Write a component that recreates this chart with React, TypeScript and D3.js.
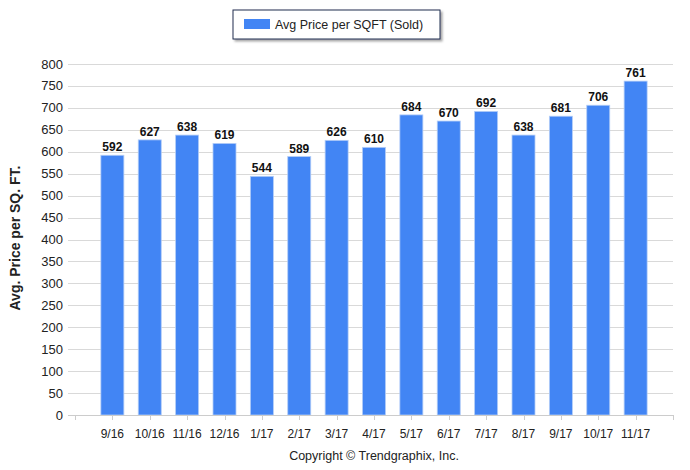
import React from "react";
import * as d3 from "d3";

const categories = ["9/16","10/16","11/16","12/16","1/17","2/17","3/17","4/17","5/17","6/17","7/17","8/17","9/17","10/17","11/17"];
const values = [592,627,638,619,544,589,626,610,684,670,692,638,681,706,761];
const yTicks = [0,50,100,150,200,250,300,350,400,450,500,550,600,650,700,750,800];
const seriesName = "Avg Price per SQFT (Sold)";
const yTitle = "Avg. Price per SQ. FT.";
const copyright = "Copyright \u00A9 Trendgraphix, Inc.";

const W = 690, H = 470;
const axisLeft = 75, axisRight = 673, yTop = 64, yBottom = 415;
const font = "'Liberation Sans', Arial, sans-serif";

export default function App() {
  const x = d3.scalePoint<string>().domain(categories).range([axisLeft, axisRight]).padding(1);
  const y = d3.scaleLinear().domain([0, 800]).range([yBottom, yTop]);
  const bw = 23;
  return (
    <svg width={W} height={H} style={{ position: "absolute", left: 0, top: 0, background: "#fff" }} fontFamily={font}>
      <defs>
        <filter id="sh" x="-10%" y="-30%" width="130%" height="180%">
          <feDropShadow dx="2" dy="2" stdDeviation="1.2" floodColor="#000" floodOpacity="0.35" />
        </filter>
      </defs>
      {/* legend */}
      <rect x={233} y={10} width={207} height={29} fill="#fff" stroke="#1f2f4f" strokeWidth={1} filter="url(#sh)" />
      <rect x={244} y={19} width={26} height={10} fill="#4285f4" />
      <text x={275} y={28.5} fontSize={12.5} fill="#222">{seriesName}</text>
      {/* gridlines */}
      {yTicks.map(t => (
        <line key={t} x1={68} x2={axisRight} y1={Math.round(y(t)) + 0.5} y2={Math.round(y(t)) + 0.5} stroke="#d9d9d9" strokeWidth={1} />
      ))}
      {yTicks.map(t => (
        <text key={"l" + t} x={63} y={y(t) + 4.5} fontSize={13} textAnchor="end" fill="#222">{t}</text>
      ))}
      <text transform={`translate(20,238) rotate(-90)`} textAnchor="middle" fontSize={14} fontWeight="bold" fill="#222">{yTitle}</text>
      {/* bars */}
      {categories.map((c, i) => {
        const cx = x(c)!;
        const top = y(values[i]);
        return (
          <g key={c}>
            <rect x={cx - bw / 2} y={top} width={bw} height={yBottom - top} fill="#4285f4" stroke="#b3cdf7" strokeWidth={0.8} />
            <text x={cx} y={top - 4} textAnchor="middle" fontSize={12} fontWeight="bold" fill="#111">{values[i]}</text>
          </g>
        );
      })}
      {/* x axis */}
      <line x1={68} x2={axisRight} y1={yBottom + 0.5} y2={yBottom + 0.5} stroke="#cccccc" />
      {[axisLeft, ...categories.map(c => x(c)!), axisRight].map((tx, i) => (
        <line key={"t" + i} x1={Math.round(tx) + 0.5} x2={Math.round(tx) + 0.5} y1={yBottom} y2={yBottom + 5} stroke="#cccccc" />
      ))}
      {categories.map(c => (
        <text key={"x" + c} x={x(c)!} y={438} textAnchor="middle" fontSize={12} fill="#222">{c}</text>
      ))}
      <text x={374} y={460} textAnchor="middle" fontSize={12.5} fill="#222">{copyright}</text>
    </svg>
  );
}
